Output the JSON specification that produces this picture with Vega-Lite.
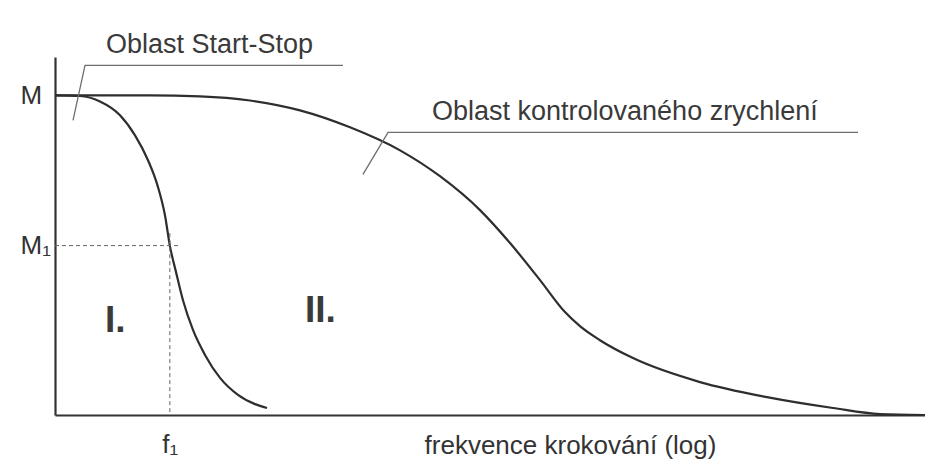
{
  "$schema": "https://vega.github.io/schema/vega-lite/v6.json",
  "autosize": "none",
  "width": 870,
  "height": 358,
  "padding": {"left": 55, "top": 57, "right": 0, "bottom": 49},
  "background": "white",
  "config": {
    "view": {"stroke": null},
    "font": "Liberation Sans"
  },
  "datasets": {
    "krivky": [
      {"krivka": "I", "f": 0, "m": 1.0},
      {"krivka": "I", "f": 2.87, "m": 0.998},
      {"krivka": "I", "f": 5.17, "m": 0.981},
      {"krivka": "I", "f": 7.47, "m": 0.938},
      {"krivka": "I", "f": 9.2, "m": 0.875},
      {"krivka": "I", "f": 10.69, "m": 0.797},
      {"krivka": "I", "f": 11.84, "m": 0.713},
      {"krivka": "I", "f": 12.64, "m": 0.625},
      {"krivka": "I", "f": 13.2, "m": 0.53},
      {"krivka": "I", "f": 13.91, "m": 0.447},
      {"krivka": "I", "f": 14.71, "m": 0.359},
      {"krivka": "I", "f": 15.86, "m": 0.266},
      {"krivka": "I", "f": 17.24, "m": 0.188},
      {"krivka": "I", "f": 18.97, "m": 0.116},
      {"krivka": "I", "f": 21.03, "m": 0.063},
      {"krivka": "I", "f": 22.99, "m": 0.034},
      {"krivka": "I", "f": 24.37, "m": 0.022},
      {"krivka": "II", "f": 0, "m": 1.0},
      {"krivka": "II", "f": 10.92, "m": 1.0},
      {"krivka": "II", "f": 16.67, "m": 0.997},
      {"krivka": "II", "f": 22.41, "m": 0.984},
      {"krivka": "II", "f": 28.16, "m": 0.953},
      {"krivka": "II", "f": 33.91, "m": 0.9},
      {"krivka": "II", "f": 39.66, "m": 0.828},
      {"krivka": "II", "f": 44.25, "m": 0.747},
      {"krivka": "II", "f": 48.85, "m": 0.641},
      {"krivka": "II", "f": 52.3, "m": 0.538},
      {"krivka": "II", "f": 55.75, "m": 0.422},
      {"krivka": "II", "f": 58.62, "m": 0.322},
      {"krivka": "II", "f": 60.34, "m": 0.278},
      {"krivka": "II", "f": 62.64, "m": 0.234},
      {"krivka": "II", "f": 66.44, "m": 0.178},
      {"krivka": "II", "f": 74.14, "m": 0.103},
      {"krivka": "II", "f": 81.84, "m": 0.056},
      {"krivka": "II", "f": 89.43, "m": 0.022},
      {"krivka": "II", "f": 94.83, "m": 0.003},
      {"krivka": "II", "f": 100, "m": 0.0}
    ],
    "pomocne": [
      {"f": 0, "f2": 14.37, "m": 0.53, "m2": 0.53},
      {"f": 13.2, "f2": 13.2, "m": 0.569, "m2": 0}
    ],
    "odkazy": [
      {"id": "start-stop", "poradi": 1, "f": 2.07, "m": 0.922},
      {"id": "start-stop", "poradi": 2, "f": 3.45, "m": 1.094},
      {"id": "start-stop", "poradi": 3, "f": 33.1, "m": 1.094},
      {"id": "zrychleni", "poradi": 1, "f": 35.4, "m": 0.753},
      {"id": "zrychleni", "poradi": 2, "f": 38.28, "m": 0.884},
      {"id": "zrychleni", "poradi": 3, "f": 92.3, "m": 0.884}
    ],
    "popisky": [
      {"text": "Oblast Start-Stop", "f": 5.86, "m": 1.131},
      {"text": "Oblast kontrolovaného zrychlení", "f": 43.33, "m": 0.922}
    ],
    "oblasti": [
      {"text": "I.", "f": 5.75, "m": 0.259},
      {"text": "II.", "f": 28.74, "m": 0.29}
    ]
  },
  "layer": [
    {
      "data": {"name": "krivky"},
      "mark": {"type": "line", "interpolate": "monotone", "color": "#2e2e2e", "strokeWidth": 2.2},
      "encoding": {
        "x": {
          "field": "f",
          "type": "quantitative",
          "scale": {"domain": [0, 100], "nice": false, "zero": false},
          "axis": {
            "values": [13.2],
            "labelExpr": "'f₁'",
            "grid": false,
            "ticks": false,
            "domainColor": "#333333",
            "domainWidth": 2.2,
            "labelFont": "Liberation Sans",
            "labelFontSize": 26,
            "labelColor": "#333333",
            "labelPadding": 16,
            "labelBaseline": "top",
            "title": "frekvence krokování (log)",
            "titleFont": "Liberation Sans",
            "titleFontSize": 26,
            "titleFontWeight": "normal",
            "titleColor": "#333333",
            "titleX": 515,
            "titleY": 38,
            "titleAlign": "center",
            "titleBaseline": "alphabetic"
          }
        },
        "y": {
          "field": "m",
          "type": "quantitative",
          "scale": {"domain": [0, 1.12], "nice": false},
          "axis": {
            "values": [0.53, 1],
            "labelExpr": "datum.value == 1 ? 'M' : 'M₁'",
            "grid": false,
            "ticks": false,
            "domainColor": "#333333",
            "domainWidth": 2.2,
            "labelFont": "Liberation Sans",
            "labelFontSize": 26,
            "labelColor": "#333333",
            "labelAlign": "left",
            "labelBaseline": "middle",
            "labelPadding": 35,
            "title": null
          }
        },
        "detail": {"field": "krivka", "type": "nominal"}
      }
    },
    {
      "data": {"name": "pomocne"},
      "mark": {"type": "rule", "color": "#666666", "strokeWidth": 1, "strokeDash": [4, 3]},
      "encoding": {
        "x": {"field": "f", "type": "quantitative"},
        "x2": {"field": "f2"},
        "y": {"field": "m", "type": "quantitative"},
        "y2": {"field": "m2"}
      }
    },
    {
      "data": {"name": "odkazy"},
      "mark": {"type": "line", "color": "#6e6e6e", "strokeWidth": 1.3},
      "encoding": {
        "x": {"field": "f", "type": "quantitative"},
        "y": {"field": "m", "type": "quantitative"},
        "detail": {"field": "id", "type": "nominal"},
        "order": {"field": "poradi", "type": "quantitative"}
      }
    },
    {
      "data": {"name": "popisky"},
      "mark": {"type": "text", "align": "left", "baseline": "alphabetic", "font": "Liberation Sans", "fontSize": 27, "color": "#3a3a3a"},
      "encoding": {
        "x": {"field": "f", "type": "quantitative"},
        "y": {"field": "m", "type": "quantitative"},
        "text": {"field": "text"}
      }
    },
    {
      "data": {"name": "oblasti"},
      "mark": {"type": "text", "align": "left", "baseline": "alphabetic", "font": "Liberation Sans", "fontSize": 37, "fontWeight": "bold", "color": "#3a3a3a"},
      "encoding": {
        "x": {"field": "f", "type": "quantitative"},
        "y": {"field": "m", "type": "quantitative"},
        "text": {"field": "text"}
      }
    }
  ]
}
